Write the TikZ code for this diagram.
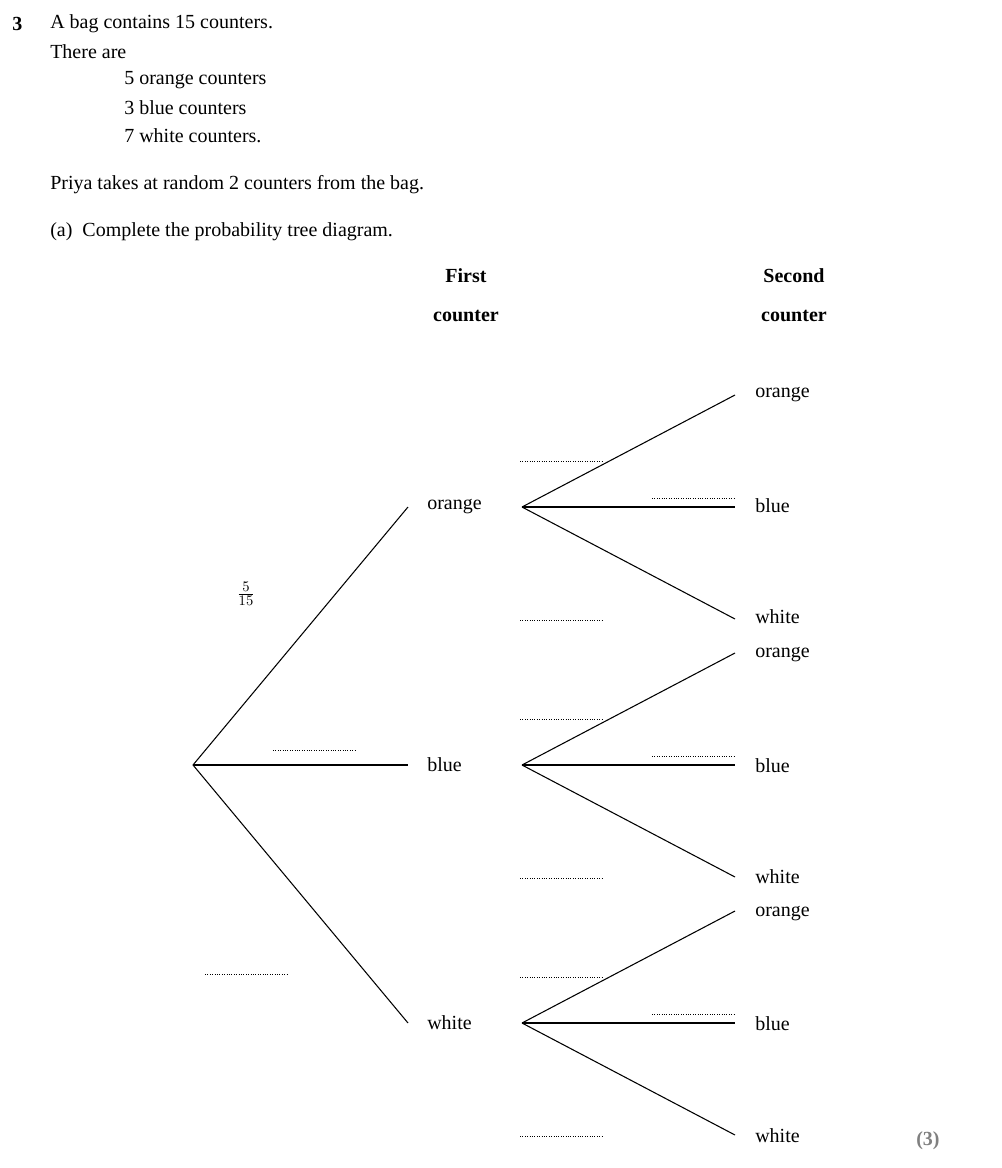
\documentclass[tikz,border=0pt]{standalone}
\usepackage{fontspec}
\setmainfont{Liberation Serif}
\begin{document}
\begin{tikzpicture}[x=0.75pt,y=-0.75pt,
  txt/.style={anchor=west,inner sep=0pt,font=\fontsize{15}{18}\selectfont},
  lbl/.style={txt},
  br/.style={line width=0.8pt},
  ans/.style={line width=0.5pt,dash pattern=on 0.6pt off 1.2pt}]
\useasboundingbox (0,0) rectangle (1001,1168);
\node[txt,font=\fontsize{15}{18}\selectfont\bfseries] (q) at (12,24) {3};
\node[txt] (t1) at (50,24) {A bag contains 15 counters.};
\node[txt] (t2) at (50,52) {There are};
\node[txt] (t3) at (124,80) {5 orange counters};
\node[txt] (t4) at (124,108) {3 blue counters};
\node[txt] (t5) at (124,136) {7 white counters.};
\node[txt] (t6) at (50,185) {Priya takes at random 2 counters from the bag.};
\node[txt] (t7) at (50,232) {(a)\enspace Complete the probability tree diagram.};
\node[align=center,inner sep=0pt,font=\fontsize{15}{29}\selectfont\bfseries] (h1) at (466,295) {First\\counter};
\node[align=center,inner sep=0pt,font=\fontsize{15}{29}\selectfont\bfseries] (h2) at (794,295) {Second\\counter};
\coordinate (r) at (193,765);
\foreach \n/\y in {o/507,b/765,w/1023}{
  \coordinate (e\n) at (408,\y);
  \coordinate (s\n) at (522,\y);
  \draw[br] (r) -- (e\n);
  \foreach \m/\d in {o/-112,b/0,w/112}{
    \coordinate (f\n\m) at (735,\y+\d);
    \draw[br] (s\n) -- (f\n\m);
  }
  \draw[ans] (520,\y-46) -- (603,\y-46);
  \draw[ans] (652,\y-9) -- (734,\y-9);
  \draw[ans] (520,\y+113) -- (603,\y+113);
}
\node[lbl] (lo) at (427,507) {orange};
\node[lbl] (lb) at (427,765) {blue};
\node[lbl] (lw) at (427,1023) {white};
\foreach \n/\y in {1/395,4/655,7/914}{\node[lbl] (a\n) at (755,\y) {orange};}
\foreach \n/\y in {2/506,5/766,8/1024}{\node[lbl] (a\n) at (755,\y) {blue};}
\foreach \n/\y in {3/617,6/877,9/1136}{\node[lbl] (a\n) at (755,\y) {white};}
\node[inner sep=0pt,font=\fontsize{15}{18}\selectfont] (fr) at (246,594) {$\frac{5}{15}$};
\draw[ans] (273,750) -- (355,750);
\draw[ans] (205,974) -- (287,974);
\node[txt,text=gray,font=\fontsize{15}{18}\selectfont\bfseries] (m) at (916,1141) {(3)};
\end{tikzpicture}
\end{document}
